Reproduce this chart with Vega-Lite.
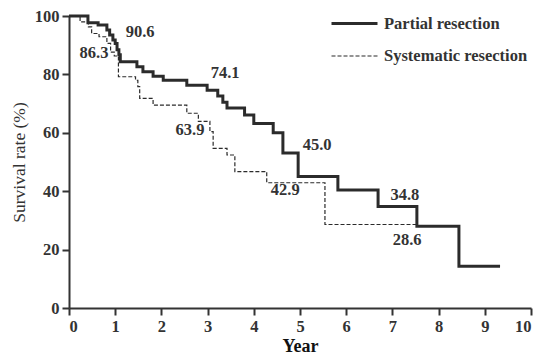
{
  "$schema": "https://vega.github.io/schema/vega-lite/v6.json",
  "width": 462,
  "height": 292,
  "autosize": {"type": "none"},
  "padding": {"left": 69, "top": 16, "right": 14, "bottom": 51},
  "background": "white",
  "config": {
    "view": {"stroke": null},
    "font": "Liberation Serif",
    "axis": {
      "grid": false,
      "domainColor": "#333333",
      "domainWidth": 2,
      "tickColor": "#333333",
      "tickWidth": 2,
      "tickSize": 7,
      "labelPadding": 3,
      "labelFont": "Liberation Serif",
      "labelFontWeight": "bold",
      "labelFontSize": 16.5,
      "labelColor": "#333333",
      "titleFont": "Liberation Serif",
      "titleColor": "#333333"
    }
  },
  "datasets": {
    "curves": [
      {"group": "Partial resection", "year": 0, "surv": 100},
      {"group": "Partial resection", "year": 0.41, "surv": 97.7},
      {"group": "Partial resection", "year": 0.63, "surv": 96.9},
      {"group": "Partial resection", "year": 0.82, "surv": 95.2},
      {"group": "Partial resection", "year": 0.88, "surv": 93.5},
      {"group": "Partial resection", "year": 0.95, "surv": 91.8},
      {"group": "Partial resection", "year": 1.0, "surv": 90.6},
      {"group": "Partial resection", "year": 1.04, "surv": 88.4},
      {"group": "Partial resection", "year": 1.08, "surv": 86.7},
      {"group": "Partial resection", "year": 1.11, "surv": 84.3},
      {"group": "Partial resection", "year": 1.47, "surv": 82.6},
      {"group": "Partial resection", "year": 1.6, "surv": 80.9},
      {"group": "Partial resection", "year": 1.82, "surv": 79.4},
      {"group": "Partial resection", "year": 2.04, "surv": 78.0},
      {"group": "Partial resection", "year": 2.55, "surv": 76.3},
      {"group": "Partial resection", "year": 2.99, "surv": 74.6},
      {"group": "Partial resection", "year": 3.22, "surv": 72.6},
      {"group": "Partial resection", "year": 3.33, "surv": 70.5},
      {"group": "Partial resection", "year": 3.42, "surv": 68.5},
      {"group": "Partial resection", "year": 3.8, "surv": 66.1},
      {"group": "Partial resection", "year": 4.0, "surv": 63.2},
      {"group": "Partial resection", "year": 4.42, "surv": 60.0},
      {"group": "Partial resection", "year": 4.63, "surv": 53.1},
      {"group": "Partial resection", "year": 4.96, "surv": 45.0},
      {"group": "Partial resection", "year": 5.82, "surv": 40.4},
      {"group": "Partial resection", "year": 6.69, "surv": 34.8},
      {"group": "Partial resection", "year": 7.53, "surv": 28.0},
      {"group": "Partial resection", "year": 8.44, "surv": 14.3},
      {"group": "Partial resection", "year": 9.33, "surv": 14.3},
      {"group": "Systematic resection", "year": 0, "surv": 100},
      {"group": "Systematic resection", "year": 0.24, "surv": 98.0},
      {"group": "Systematic resection", "year": 0.42, "surv": 96.3},
      {"group": "Systematic resection", "year": 0.49, "surv": 94.0},
      {"group": "Systematic resection", "year": 0.65, "surv": 92.9},
      {"group": "Systematic resection", "year": 0.82, "surv": 90.6},
      {"group": "Systematic resection", "year": 0.9, "surv": 87.6},
      {"group": "Systematic resection", "year": 0.98, "surv": 86.3},
      {"group": "Systematic resection", "year": 1.07, "surv": 79.2},
      {"group": "Systematic resection", "year": 1.44, "surv": 78.0},
      {"group": "Systematic resection", "year": 1.49, "surv": 75.8},
      {"group": "Systematic resection", "year": 1.53, "surv": 71.8},
      {"group": "Systematic resection", "year": 1.82, "surv": 69.5},
      {"group": "Systematic resection", "year": 2.55, "surv": 66.7},
      {"group": "Systematic resection", "year": 2.8, "surv": 63.9},
      {"group": "Systematic resection", "year": 3.05, "surv": 60.4},
      {"group": "Systematic resection", "year": 3.12, "surv": 54.7},
      {"group": "Systematic resection", "year": 3.42, "surv": 52.4},
      {"group": "Systematic resection", "year": 3.59, "surv": 46.7},
      {"group": "Systematic resection", "year": 4.28, "surv": 42.9},
      {"group": "Systematic resection", "year": 5.54, "surv": 28.6},
      {"group": "Systematic resection", "year": 7.53, "surv": 28.6}
    ],
    "labels": [
      {"x": 1.54, "y": 94.5, "text": "90.6"},
      {"x": 0.54, "y": 87.3, "text": "86.3"},
      {"x": 3.38, "y": 80.4, "text": "74.1"},
      {"x": 2.62, "y": 60.9, "text": "63.9"},
      {"x": 5.37, "y": 55.8, "text": "45.0"},
      {"x": 4.68, "y": 40.4, "text": "42.9"},
      {"x": 7.27, "y": 38.7, "text": "34.8"},
      {"x": 7.32, "y": 23.3, "text": "28.6"}
    ]
  },
  "layer": [
    {
      "data": {"name": "curves"},
      "mark": {"type": "line", "interpolate": "step-after", "color": "#2b2b2b"},
      "encoding": {
        "x": {
          "field": "year", "type": "quantitative",
          "scale": {"domain": [0, 10], "nice": false},
          "axis": {"values": [0,1,2,3,4,5,6,7,8,9,10], "title": "Year", "titleFontSize": 18, "titleFontWeight": "bold", "titlePadding": 3, "titleColor": "#111111"}
        },
        "y": {
          "field": "surv", "type": "quantitative",
          "scale": {"domain": [0, 100], "nice": false},
          "axis": {"values": [0,20,40,60,80,100], "title": "Survival rate (%)", "titleFontSize": 17.5, "titleFontWeight": "normal", "titlePadding": 6}
        },
        "strokeDash": {
          "field": "group", "type": "nominal",
          "scale": {"domain": ["Partial resection", "Systematic resection"], "range": [[1, 0], [4, 2]]},
          "legend": {
            "title": null, "orient": "none", "legendX": 261, "legendY": -17,
            "symbolType": "stroke", "symbolSize": 2116, "symbolStrokeColor": "#2b2b2b",
            "labelFont": "Liberation Serif", "labelFontWeight": "bold", "labelFontSize": 16.5, "labelColor": "#333333",
            "labelOffset": 5, "rowPadding": -3
          }
        },
        "strokeWidth": {
          "field": "group", "type": "nominal",
          "scale": {"domain": ["Partial resection", "Systematic resection"], "range": [3, 1.2]}
        }
      }
    },
    {
      "data": {"name": "labels"},
      "mark": {"type": "text", "font": "Liberation Serif", "fontWeight": "bold", "fontSize": 16.5, "color": "#333333"},
      "encoding": {
        "x": {"field": "x", "type": "quantitative"},
        "y": {"field": "y", "type": "quantitative"},
        "text": {"field": "text", "type": "nominal"}
      }
    }
  ]
}
